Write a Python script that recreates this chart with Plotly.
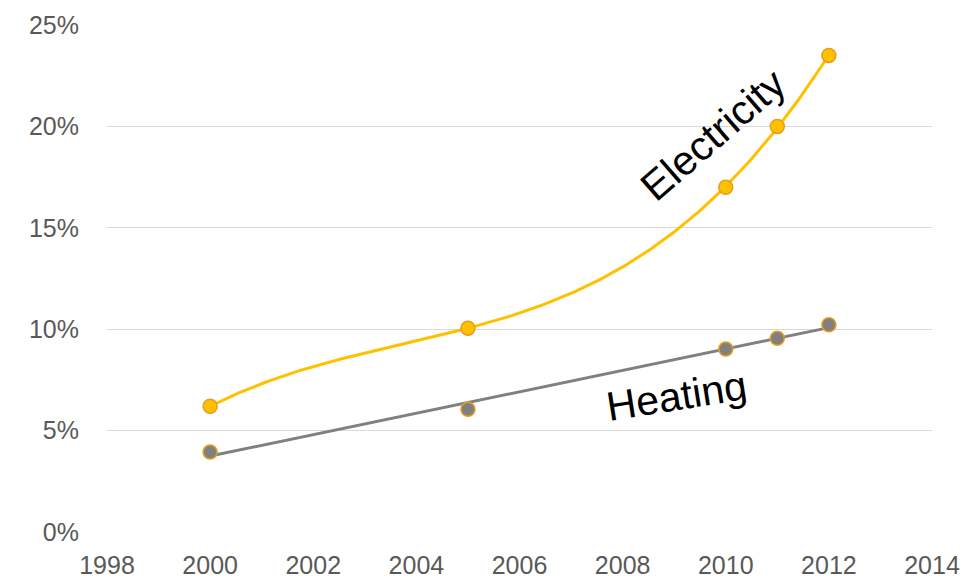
import numpy as np
import plotly.graph_objects as go

years = [2000, 2005, 2010, 2011, 2012]
electricity = [6.2, 10.05, 17.0, 20.0, 23.5]
heating = [3.94, 6.05, 9.02, 9.55, 10.22]

gold = "#FFC000"
gray = "#808080"
edge = "#E59E1C"

xs = np.array(years, dtype=float) - 2000

# polynomial (order 3) trendline for electricity
ce = np.polyfit(xs, electricity, 3)
tx = np.linspace(xs[0], xs[-1], 200)
elec_trend_x = tx + 2000
elec_trend_y = np.polyval(ce, tx)

# linear trendline for heating
ch = np.polyfit(xs, heating, 1)
heat_trend_x = [years[0], years[-1]]
heat_trend_y = list(np.polyval(ch, [xs[0], xs[-1]]))

fig = go.Figure()
fig.add_trace(go.Scatter(x=elec_trend_x, y=elec_trend_y, mode="lines",
                         line=dict(color=gold, width=3), showlegend=False, hoverinfo="skip"))
fig.add_trace(go.Scatter(x=heat_trend_x, y=heat_trend_y, mode="lines",
                         line=dict(color=gray, width=3), showlegend=False, hoverinfo="skip"))
fig.add_trace(go.Scatter(x=years, y=electricity, mode="markers", name="Electricity",
                         marker=dict(size=14, color=gold, line=dict(color=edge, width=1.5)),
                         showlegend=False))
fig.add_trace(go.Scatter(x=years, y=heating, mode="markers", name="Heating",
                         marker=dict(size=14, color=gray, line=dict(color=edge, width=1.5)),
                         showlegend=False))

fig.add_annotation(x=2009.75, y=19.6, xref="x", yref="y", text="Electricity",
                   showarrow=False, textangle=-41,
                   font=dict(family="Liberation Sans, Arial", size=41, color="black"))
fig.add_annotation(x=2009.05, y=6.7, xref="x", yref="y", text="Heating",
                   showarrow=False, textangle=-9,
                   font=dict(family="Liberation Sans, Arial", size=41, color="black"))

tickfont = dict(family="Liberation Sans, Arial", size=25, color="#595959")
fig.update_layout(
    width=980, height=581,
    margin=dict(l=99, r=56, t=17, b=57),
    plot_bgcolor="white", paper_bgcolor="white",
    xaxis=dict(range=[1998, 2014], dtick=2, tick0=1998, showgrid=False, zeroline=False,
               showline=False, tickfont=tickfont, ticks="", ticklabelstandoff=16,
               automargin=False),
    yaxis=dict(range=[0, 25], dtick=5, ticksuffix="%", showgrid=True, gridcolor="#D9D9D9",
               gridwidth=1.3, zeroline=False, showline=False, tickfont=tickfont, ticks="",
               ticklabelstandoff=27, automargin=False),
)
fig.write_html("out.html")
